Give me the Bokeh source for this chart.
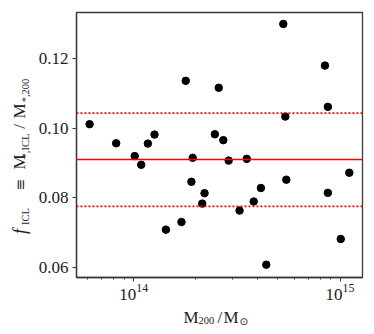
import math
from bokeh.plotting import figure
from bokeh.layouts import row, column
from bokeh.models import (FixedTicker, LogTickFormatter, PrintfTickFormatter,
                          Span, Label, Range1d)
from bokeh.embed import file_html
from bokeh.resources import INLINE

# ---- data ----
mass = [6.11e13, 8.22e13, 1.011e14, 1.087e14, 1.171e14, 1.261e14, 1.432e14,
        1.704e14, 1.787e14, 1.931e14, 1.904e14, 2.148e14, 2.204e14, 2.472e14,
        2.583e14, 2.718e14, 2.884e14, 3.258e14, 3.532e14, 3.815e14, 4.135e14,
        4.39e14, 5.31e14, 5.43e14, 5.49e14, 8.45e14, 8.73e14, 8.73e14,
        1.008e15, 1.109e15]
f_icl = [0.1012, 0.0957, 0.0920, 0.0895, 0.0956, 0.0982, 0.0708, 0.0730,
         0.1137, 0.0915, 0.0846, 0.0783, 0.0813, 0.0983, 0.1117, 0.0966,
         0.0907, 0.0763, 0.0912, 0.0789, 0.0828, 0.0607, 0.1301, 0.1034,
         0.0852, 0.1181, 0.1062, 0.0814, 0.0681, 0.0872]
f_mean = 0.0910
f_upper = 0.1044
f_lower = 0.0775

x_major_ticks = [1e14, 1e15]
x_minor_ticks = [6e13, 7e13, 8e13, 9e13, 2e14, 3e14, 4e14, 5e14, 6e14,
                 7e14, 8e14, 9e14]
y_ticks = [0.06, 0.08, 0.10, 0.12]

FONT = "Liberation Serif"
AX = "#3a3a3a"
TXT = "#222222"
MAIN = "17px"
SUB = "10.5px"

W, H = 374, 334
YLAB_W = 35          # strip holding the y-axis title
TOP_H = 306          # height of the main row
XLAB_H = H - TOP_H   # strip holding the x-axis title

p = figure(width=W - YLAB_W, height=TOP_H, x_axis_type="log",
           x_range=Range1d(5.28e13, 1.285e15), y_range=Range1d(0.0570, 0.1334),
           output_backend="svg", toolbar_location=None,
           min_border_left=73 - YLAB_W, min_border_right=12, min_border_top=12,
           min_border_bottom=TOP_H - 277)
p.grid.visible = False
p.outline_line_color = AX
p.outline_line_width = 1.3
p.background_fill_color = "white"
p.border_fill_color = "white"

for ax in (p.xaxis[0], p.yaxis[0]):
    ax.axis_line_color = AX
    ax.axis_line_width = 1.3
    ax.major_tick_line_color = AX
    ax.minor_tick_line_color = AX
    ax.major_tick_out = 4
    ax.major_tick_in = 0
    ax.minor_tick_out = 2
    ax.minor_tick_in = 0
    ax.major_label_text_font = FONT
    ax.major_label_text_font_size = "17px"
    ax.major_label_text_color = TXT
p.yaxis.major_label_standoff = 4
p.xaxis.major_label_standoff = 2

p.xaxis.ticker = FixedTicker(ticks=x_major_ticks, minor_ticks=x_minor_ticks)
p.xaxis.formatter = LogTickFormatter()
p.yaxis.ticker = FixedTicker(ticks=y_ticks)
p.yaxis.formatter = PrintfTickFormatter(format="%.2f")
p.yaxis.minor_tick_line_color = None

p.add_layout(Span(location=f_mean, dimension="width", line_color="red",
                  line_width=1.6))
for v in (f_upper, f_lower):
    p.add_layout(Span(location=v, dimension="width", line_color="red",
                      line_width=1.6, line_dash="2 2"))

p.scatter(mass, f_icl, size=7.5, color="black")


def strip(w, h):
    """A bare, title-less figure whose data coordinates are its own pixels."""
    f = figure(frame_width=w, frame_height=h, title=None,
               x_range=Range1d(0, w), y_range=Range1d(0, h),
               output_backend="svg", toolbar_location=None,
               x_axis_location=None, y_axis_location=None,
               min_border=0, min_border_left=0, min_border_right=0,
               min_border_top=0, min_border_bottom=0)
    f.grid.visible = False
    f.outline_line_color = None
    f.background_fill_color = "white"
    f.border_fill_color = "white"
    return f


def lab(f, text, x, y, size, angle=0.0, style="normal", font=FONT,
        align="left", baseline="alphabetic"):
    f.add_layout(Label(x=x, y=y, text=text, angle=angle, text_font=font,
                       text_font_size=size, text_font_style=style,
                       text_color=TXT, text_align=align,
                       text_baseline=baseline))


# y-axis title: f_ICL ≡ M_{*,ICL}/M_{*,200}, rotated (reads upward);
# every piece is placed by its centre
yl = strip(YLAB_W, TOP_H)
R = math.pi / 2
yy = lambda page_y: TOP_H - page_y


def ypiece(text, cx, cy, size, style="normal", font=FONT):
    lab(yl, text, cx, yy(cy), size, R, style, font, "center", "middle")


ypiece("f", 19, 219, "18px", "italic")
ypiece("ICL", 24.5, 204, SUB)
ypiece("\u2261", 19, 172, "14px", font="DejaVu Serif")
ypiece("M", 19, 149.5, MAIN)
ypiece("*,ICL", 24.5, 133.5, SUB)
ypiece("/", 19, 114, MAIN)
ypiece("M", 19, 98.5, MAIN)
ypiece("*,200", 24.5, 78, SUB)

# x-axis title: M_200/M_sun
xl = strip(W, XLAB_H)
xy = lambda page_y: H - page_y
lab(xl, "M", 183, xy(317), MAIN)
lab(xl, "200", 198, xy(320), SUB)
lab(xl, "/", 217, xy(317), MAIN)
lab(xl, "M", 223, xy(317), MAIN)
lab(xl, "\u2299", 239, xy(320), SUB, font="DejaVu Sans")

layout = column(row(yl, p), xl)
open("out.html", "w").write(file_html(layout, INLINE))
